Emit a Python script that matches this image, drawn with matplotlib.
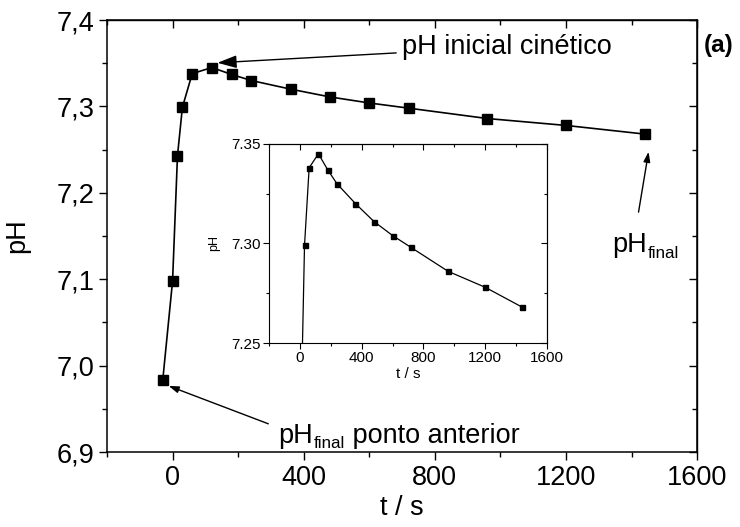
import matplotlib
matplotlib.use("Agg")
import matplotlib.pyplot as plt
from matplotlib.ticker import MultipleLocator, FuncFormatter

plt.rcParams['font.family'] = ['Liberation Sans', 'DejaVu Sans']

# tempo (s) e pH medidos
t = [-30, 0, 15, 30, 60, 120, 180, 240, 360, 480, 600, 720, 960, 1200, 1440]
ph = [6.983, 7.098, 7.243, 7.299, 7.338, 7.345, 7.337, 7.330, 7.320,
      7.311, 7.304, 7.298, 7.286, 7.278, 7.268]

FS = 19.5  # tamanho das letras do gráfico principal


def mirror_ticks(ax, xmaj, xmin, ymaj, ymin, major_len, minor_len, width):
    # marcas para fora em baixo/esquerda, para dentro em cima/direita
    ax.xaxis.set_major_locator(MultipleLocator(xmaj))
    ax.xaxis.set_minor_locator(MultipleLocator(xmin))
    ax.yaxis.set_major_locator(MultipleLocator(ymaj))
    ax.yaxis.set_minor_locator(MultipleLocator(ymin))
    ax.tick_params(which='major', direction='out', length=major_len, width=width)
    ax.tick_params(which='minor', direction='out', length=minor_len, width=width)
    top = ax.secondary_xaxis('top')
    top.xaxis.set_major_locator(MultipleLocator(xmaj))
    top.xaxis.set_minor_locator(MultipleLocator(xmin))
    top.set_xticklabels([])
    right = ax.secondary_yaxis('right')
    right.yaxis.set_major_locator(MultipleLocator(ymaj))
    right.yaxis.set_minor_locator(MultipleLocator(ymin))
    right.set_yticklabels([])
    for sec in (top, right):
        sec.tick_params(which='major', direction='in', length=major_len, width=width)
        sec.tick_params(which='minor', direction='in', length=minor_len, width=width)
        for s in sec.spines.values():
            s.set_linewidth(width)


def ph_final(ax, x, y, size, extra=''):
    # "pH" com o índice "final" e texto opcional a seguir
    t1 = ax.text(x, y, 'pH', fontsize=size, ha='left', va='bottom')
    sub = ax.annotate('final', xy=(1, 0), xycoords=t1, xytext=(0.5, -2),
                      textcoords='offset points', fontsize=size * 0.63,
                      ha='left', va='bottom')
    if extra:
        ax.annotate(extra, xy=(1, 0), xycoords=(sub, t1), fontsize=size,
                    ha='left', va='bottom')


fig = plt.figure(figsize=(7.40, 5.27), dpi=100)
ax = fig.add_axes([0.1446, 0.1423, 0.7974, 0.8197])

ax.plot(t, ph, '-s', color='black', lw=1.2, ms=7, mec='black', mfc='black')
ax.set_xlim(-200, 1600)
ax.set_ylim(6.9, 7.4)
for s in ax.spines.values():
    s.set_linewidth(1.1)
mirror_ticks(ax, 400, 200, 0.1, 0.05, 6, 3.5, 1.0)
ax.yaxis.set_major_formatter(FuncFormatter(lambda v, p: f"{v:.1f}".replace('.', ',')))
ax.tick_params(labelsize=FS, pad=3)
ax.set_xlabel('t / s', fontsize=FS, labelpad=3)
ax.set_ylabel('pH', fontsize=FS, labelpad=19)

arrow = dict(arrowstyle='-|>,head_length=0.6,head_width=0.2', color='black', lw=1.0,
             shrinkA=2, shrinkB=0)
ax.annotate('pH inicial cinético', xy=(137, 7.3505), xytext=(699, 7.369),
            fontsize=FS, ha='left', va='center', arrowprops=arrow)
ax.annotate('', xy=(1452, 7.2475), xytext=(1420, 7.1745), arrowprops=arrow)
ph_final(ax, 1340, 7.124, FS)
ax.annotate('', xy=(-12, 6.9765), xytext=(300, 6.9315), arrowprops=arrow)
ph_final(ax, 323, 6.904, FS, ' ponto anterior')
fig.text(0.951, 0.913, '(a)', fontsize=17.5, fontweight='bold', ha='left', va='center')

# gráfico interno ampliado
ins = fig.add_axes([0.3635, 0.349, 0.3757, 0.378])
ins.plot(t, ph, '-s', color='black', lw=0.9, ms=3.6, mec='black', mfc='black')
ins.set_xlim(-200, 1600)
ins.set_ylim(7.25, 7.35)
for s in ins.spines.values():
    s.set_linewidth(0.8)
mirror_ticks(ins, 400, 200, 0.05, 0.025, 4, 2.5, 0.8)
ins.yaxis.set_major_formatter(FuncFormatter(lambda v, p: f"{v:.2f}"))
ins.tick_params(labelsize=11, pad=2)
ins.set_xlabel('t / s', fontsize=11, labelpad=1)
ins.set_ylabel('pH', fontsize=9, labelpad=8)

fig.savefig('out.png', dpi=100)
